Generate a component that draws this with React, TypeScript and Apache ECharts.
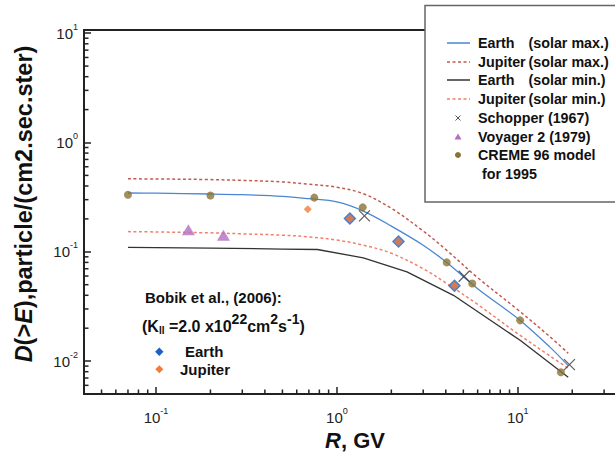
import React, { useEffect, useRef } from "react";
import * as echarts from "echarts";

// ---- data ----
const R_LINE = [0.07, 0.1, 0.2, 0.3, 0.5, 0.7, 1, 1.4, 2, 3, 4, 6, 10, 15, 19];
const EARTH_MAX = [0.345, 0.344, 0.338, 0.333, 0.322, 0.306, 0.286, 0.236, 0.172, 0.115, 0.081, 0.046, 0.0245, 0.0135, 0.0091];
const JUPITER_MAX = [0.465, 0.464, 0.458, 0.45, 0.436, 0.415, 0.39, 0.34, 0.25, 0.155, 0.105, 0.058, 0.0295, 0.0168, 0.0118];
const JUPITER_MIN = [0.153, 0.152, 0.149, 0.146, 0.142, 0.137, 0.128, 0.115, 0.097, 0.07, 0.052, 0.033, 0.0178, 0.0112, 0.0086];
const R_EARTH_MIN = [0.07, 0.2, 0.5, 0.78, 1.4, 2.44, 4.41, 10.3, 19];
const EARTH_MIN = [0.11, 0.108, 0.106, 0.105, 0.088, 0.0656, 0.04, 0.0155, 0.00713];

const R_CREME = [0.07, 0.2, 0.75, 1.39, 4.05, 5.6, 10.3, 17.3];
const D_CREME = [0.333, 0.327, 0.313, 0.255, 0.08, 0.0513, 0.0236, 0.0079];
const R_SCHOPPER = [1.42, 5.05, 19.3];
const D_SCHOPPER = [0.213, 0.0598, 0.00927];
const R_VOYAGER = [0.151, 0.236];
const D_VOYAGER = [0.159, 0.142];
const R_BOBIK_EARTH = [1.18, 2.19, 4.47];
const D_BOBIK_EARTH = [0.202, 0.124, 0.0488];
const R_BOBIK_JUPITER = [0.69, 1.18, 2.19, 4.47];
const D_BOBIK_JUPITER = [0.245, 0.202, 0.124, 0.0488];

const X_MIN = 0.04;
const X_MAX = 40;
const Y_MIN = 0.005;
const Y_MAX = 10.7;
const X_MINOR = [0.05, 0.06, 0.07, 0.08, 0.09, 0.2, 0.3, 0.4, 0.5, 0.6, 0.7, 0.8, 0.9, 2, 3, 4, 5, 6, 7, 8, 9, 20, 30];
const Y_MINOR = [0.006, 0.007, 0.008, 0.009, 0.02, 0.03, 0.04, 0.05, 0.06, 0.07, 0.08, 0.09, 0.2, 0.3, 0.4, 0.5, 0.6, 0.7, 0.8, 0.9, 2, 3, 4, 5, 6, 7, 8, 9];

const FONT = "Liberation Sans, Arial, Helvetica, sans-serif";
const C_BLUE = "#4a86d4";
const C_JMAX = "#c25a50";
const C_JMIN = "#f2806a";
const C_BLACK = "#333333";
const C_CREME = "#8a7334";
const C_VOY = "#b46ec0";
const C_EARTH = "#1f5fbf";
const C_JUP = "#f47a36";

const zip = (xs: number[], ys: number[]) => xs.map((x, i) => [x, ys[i]]);

const pow10Label = (v: number) => {
  const e = Math.round(Math.log10(v));
  if (Math.abs(Math.log10(v) - e) > 1e-6) return "";
  return `{b|10}{s|${e}}`;
};

const labelRich = {
  b: { fontSize: 15, fontFamily: FONT, color: "#222", lineHeight: 18 },
  s: { fontSize: 9, fontFamily: FONT, color: "#222", lineHeight: 10, padding: [0, 0, 13, 0] },
};

export default function App() {
  const ref = useRef<HTMLDivElement>(null);
  useEffect(() => {
    if (!ref.current) return;
    const chart = echarts.init(ref.current, undefined, { renderer: "svg" });
    const bold = { fontFamily: FONT, fontWeight: "bold", fontSize: 14, fill: "#111" };
    const legendY = [43, 62, 80, 99, 118, 137, 155, 174];
    const Z = 102;
    const legendLine = (y: number, color: string, dashed: boolean, w = 1.5) => ({
      type: "line",
      z: Z,
      shape: { x1: 447, y1: y, x2: 470, y2: y },
      style: { stroke: color, lineWidth: w, lineDash: dashed ? [3, 2.5] : null },
    });
    const txt = (x: number, y: number, text: string, size = 14.3) => ({
      type: "text",
      z: Z,
      x,
      y,
      style: { ...bold, fontSize: size, text, verticalAlign: "middle" },
    });
    const titleRich = (size: number) => ({
      i: { fontFamily: FONT, fontWeight: "bold", fontStyle: "italic", fontSize: size, fill: "#111", color: "#111" },
      n: { fontFamily: FONT, fontWeight: "bold", fontSize: size, fill: "#111", color: "#111" },
    });

    const option: any = {
      animation: false,
      grid: { left: 84, top: 30, right: 13.3, bottom: 70, show: true, borderColor: "#222", borderWidth: 2, backgroundColor: "transparent" },
      xAxis: {
        type: "log",
        logBase: 10,
        min: X_MIN,
        max: X_MAX,
        axisLine: { lineStyle: { color: "#222", width: 2 } },
        axisTick: { inside: true, length: 7, lineStyle: { color: "#222", width: 1.5 } },
        splitLine: { show: false },
        minorTick: { show: false },
        axisLabel: { formatter: pow10Label, rich: labelRich, margin: 14, showMinLabel: true, showMaxLabel: true },
      },
      yAxis: {
        type: "log",
        logBase: 10,
        min: Y_MIN,
        max: Y_MAX,
        axisLine: { lineStyle: { color: "#222", width: 2 } },
        axisTick: { inside: true, length: 7, lineStyle: { color: "#222", width: 1.5 } },
        splitLine: { show: false },
        axisLabel: { formatter: pow10Label, rich: labelRich, margin: 6 },
      },
      series: [
        {
          type: "custom",
          silent: true,
          clip: false,
          z: 5,
          renderItem: (params: any, api: any) => {
            const p = api.coord([api.value(0), api.value(1)]);
            const vertical = api.value(2) === 0;
            return {
              type: "line",
              shape: vertical
                ? { x1: p[0], y1: p[1], x2: p[0], y2: p[1] - 4.5 }
                : { x1: p[0], y1: p[1], x2: p[0] + 4.5, y2: p[1] },
              style: { stroke: "#222", lineWidth: 1.5 },
            };
          },
          data: [...X_MINOR.map((v) => [v, Y_MIN, 0]), ...Y_MINOR.map((v) => [X_MIN, v, 1])],
        },
        {
          name: "Jupiter (solar max.)",
          type: "line",
          data: zip(R_LINE, JUPITER_MAX),
          showSymbol: false,
          smooth: 0.35,
          lineStyle: { color: C_JMAX, width: 1.5, type: [3, 2.5] },
        },
        {
          name: "Jupiter (solar min.)",
          type: "line",
          data: zip(R_LINE, JUPITER_MIN),
          showSymbol: false,
          smooth: 0.35,
          lineStyle: { color: C_JMIN, width: 1.5, type: [3, 2.5] },
        },
        {
          name: "Earth (solar min.)",
          type: "line",
          data: zip(R_EARTH_MIN, EARTH_MIN),
          showSymbol: false,
          lineStyle: { color: C_BLACK, width: 1.3 },
        },
        {
          name: "Earth (solar max.)",
          type: "line",
          data: zip(R_LINE, EARTH_MAX),
          showSymbol: false,
          smooth: 0.35,
          lineStyle: { color: C_BLUE, width: 1.3 },
        },
        {
          name: "Voyager 2 (1979)",
          type: "scatter",
          data: zip(R_VOYAGER, D_VOYAGER),
          symbol: "triangle",
          symbolSize: [13, 11],
          itemStyle: { color: C_VOY },
          z: 6,
        },
        {
          name: "Bobik Earth",
          type: "scatter",
          data: zip(R_BOBIK_EARTH, D_BOBIK_EARTH),
          symbol: "diamond",
          symbolSize: 13,
          itemStyle: { color: C_EARTH },
          z: 6,
        },
        {
          name: "Bobik Jupiter",
          type: "scatter",
          data: zip(R_BOBIK_JUPITER, D_BOBIK_JUPITER).map((d, i) => ({ value: d, symbolSize: i === 0 ? 8 : 9 })),
          symbol: "diamond",
          itemStyle: { color: C_JUP },
          z: 7,
        },
        {
          name: "CREME 96 model for 1995",
          type: "scatter",
          data: zip(R_CREME, D_CREME),
          symbol: "circle",
          symbolSize: 8,
          itemStyle: { color: C_CREME },
          z: 8,
        },
        {
          name: "Schopper (1967)",
          type: "scatter",
          data: zip(R_SCHOPPER, D_SCHOPPER),
          symbol: "path://M0,0L10,10M10,0L0,10",
          symbolSize: 11,
          itemStyle: { color: "none", borderColor: "#333", borderWidth: 1.2 },
          z: 9,
        },
      ],
      graphic: [
        // legend box
        {
          type: "rect",
          z: 100,
          shape: { x: 425, y: 5.5, width: 220, height: 196.5 },
          style: { fill: "#fff", stroke: "#666", lineWidth: 1.5 },
        },
        legendLine(legendY[0], C_BLUE, false),
        legendLine(legendY[1], C_JMAX, true),
        legendLine(legendY[2], C_BLACK, false),
        legendLine(legendY[3], C_JMIN, true),
        { type: "line", z: Z, shape: { x1: 455.5, y1: 115.5, x2: 460.5, y2: 120.5 }, style: { stroke: "#555", lineWidth: 1 } },
        { type: "line", z: Z, shape: { x1: 460.5, y1: 115.5, x2: 455.5, y2: 120.5 }, style: { stroke: "#555", lineWidth: 1 } },
        { type: "polygon", z: Z, shape: { points: [[458, 133.5], [461.5, 139.5], [454.5, 139.5]] }, style: { fill: C_VOY } },
        { type: "circle", z: Z, shape: { cx: 458, cy: legendY[6], r: 3 }, style: { fill: C_CREME } },
        txt(478, legendY[0], "Earth"),
        txt(528.5, legendY[0], "(solar max.)"),
        txt(478, legendY[1], "Jupiter"),
        txt(528.5, legendY[1], "(solar max.)"),
        txt(478, legendY[2], "Earth"),
        txt(528.5, legendY[2], "(solar min.)"),
        txt(478, legendY[3], "Jupiter"),
        txt(528.5, legendY[3], "(solar min.)"),
        txt(478, legendY[4], "Schopper (1967)"),
        txt(478, legendY[5], "Voyager 2 (1979)"),
        txt(478, legendY[6], "CREME 96 model"),
        txt(482, legendY[7], "for 1995"),
        // annotation
        txt(145, 297.5, "Bobik et al., (2006):", 15),
        {
          type: "text",
          z: Z,
          x: 142,
          y: 326,
          style: {
            text: "{n|(K}{sub|II}{n| =2.0 x10}{sup|22}{n|cm}{sup|2}{n|s}{sup|-1}{n|)}",
            verticalAlign: "middle",
            rich: {
              n: { fontFamily: FONT, fontWeight: "bold", fontSize: 16, lineHeight: 18, fill: "#111", color: "#111" },
              sup: { fontFamily: FONT, fontWeight: "bold", fontSize: 14, lineHeight: 14, padding: [0, 0, 14, 0], fill: "#111", color: "#111" },
              sub: { fontFamily: FONT, fontWeight: "bold", fontSize: 10, lineHeight: 10, padding: [8, 0, 0, 0], fill: "#111", color: "#111" },
            },
          },
        },
        { type: "polygon", z: Z, shape: { points: [[159.3, 347.5], [163.5, 351.7], [159.3, 355.9], [155.1, 351.7]] }, style: { fill: C_EARTH } },
        { type: "polygon", z: Z, shape: { points: [[159.3, 365.3], [163.3, 369.3], [159.3, 373.3], [155.3, 369.3]] }, style: { fill: C_JUP } },
        txt(185, 351.7, "Earth", 15),
        txt(180, 369.3, "Jupiter", 15),
        // axis titles
        {
          type: "text",
          z: Z,
          x: 24,
          y: 204,
          rotation: Math.PI / 2,
          style: {
            text: "{i|D}{n|(>}{i|E}{n|),particle/(cm2.sec.ster}{n|)}",
            align: "center",
            verticalAlign: "middle",
            rich: titleRich(23.5),
          },
        },
        {
          type: "text",
          z: Z,
          x: 355,
          y: 440,
          style: {
            text: "{i|R}{n|, GV}",
            align: "center",
            verticalAlign: "middle",
            rich: titleRich(22),
          },
        },
      ],
    };
    chart.setOption(option);
    return () => chart.dispose();
  }, []);
  return (
    <div style={{ position: "absolute", left: 0, top: 0, width: 615, height: 464, overflow: "hidden", background: "#fff" }}>
      <div ref={ref} style={{ width: 640, height: 464 }} />
    </div>
  );
}
